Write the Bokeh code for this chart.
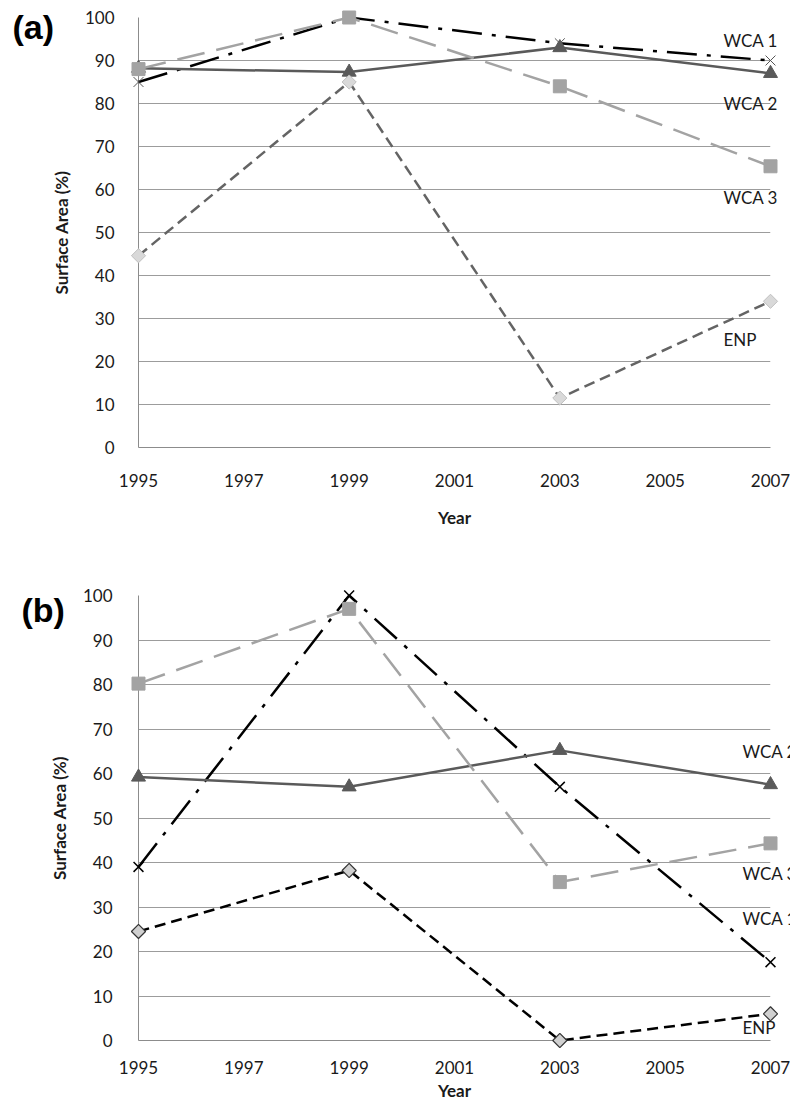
import math
from bokeh.plotting import figure
from bokeh.layouts import column
from bokeh.models import Range1d, FixedTicker
from bokeh.core.properties import value
from bokeh.embed import file_html
from bokeh.resources import INLINE

# ---------------- data ----------------
years = [1995, 1999, 2003, 2007]
x_ticks = [1995, 1997, 1999, 2001, 2003, 2005, 2007]
y_ticks = [0, 10, 20, 30, 40, 50, 60, 70, 80, 90, 100]

a_wca1 = [85, 100, 94, 90]
a_wca2 = [88.2, 87.3, 93, 87]
a_wca3 = [88, 100, 84, 65.4]
a_enp = [44.6, 85, 11.5, 34]

b_wca1 = [39, 100, 57, 17.6]
b_wca2 = [59.2, 57, 65.2, 57.5]
b_wca3 = [80.2, 97, 35.6, 44.3]
b_enp = [24.5, 38.2, 0, 6]

names = ["WCA 1", "WCA 2", "WCA 3", "ENP"]
panel_tags = ["(a)", "(b)"]
x_title = "Year"
y_title = "Surface Area (%)"

# label anchor heights (data units) for the series names
a_label_y = [94.6, 80.0, 58.1, 25.1]
b_label_y = [27.4, 64.9, 37.5, 3.0]

FONT = "Lato"
TXT = "#1a1a1a"


def make_panel(tag, series, label_y, height, mb_left, mb_top, mb_bottom,
               y_standoff, x_standoff, lab_xoff, tag_xoff, tag_yoff,
               year_yoff, styles):
    p = figure(width=790, height=height,
               x_range=Range1d(1995, 2007), y_range=Range1d(0, 100),
               output_backend="svg", toolbar_location=None,
               min_border_left=mb_left, min_border_right=20,
               min_border_top=mb_top, min_border_bottom=mb_bottom)
    p.outline_line_color = None
    p.background_fill_color = "white"
    p.border_fill_color = "white"
    p.xgrid.visible = False
    p.ygrid.ticker = FixedTicker(ticks=y_ticks)
    p.ygrid.grid_line_color = "#9c9c9c"
    p.ygrid.grid_line_width = 1
    p.xaxis.ticker = FixedTicker(ticks=x_ticks)
    p.yaxis.ticker = FixedTicker(ticks=y_ticks)
    for ax in (p.xaxis[0], p.yaxis[0]):
        ax.major_tick_line_color = None
        ax.minor_tick_line_color = None
        ax.axis_line_color = "#8c8c8c"
        ax.axis_line_width = 1
        ax.major_label_text_font = FONT
        ax.major_label_text_font_size = "17px"
        ax.major_label_text_color = TXT
    p.yaxis.major_label_standoff = y_standoff
    p.xaxis.major_label_standoff = x_standoff
    p.yaxis.axis_label = y_title
    p.yaxis.axis_label_text_font = FONT
    p.yaxis.axis_label_text_font_style = "bold"
    p.yaxis.axis_label_text_font_size = "17px"
    p.yaxis.axis_label_text_color = TXT
    p.yaxis.axis_label_standoff = 10

    for vals, st in zip(series, styles):
        p.line(years, vals, line_color=st["lc"], line_width=st["lw"],
               line_dash=st["dash"], level="overlay")
        p.scatter(years, vals, marker=st["marker"], size=st["size"],
                  angle=st.get("angle", 0.0),
                  fill_color=st["fc"], line_color=st["mlc"],
                  line_width=st["mlw"], level="overlay")

    # series names (text glyphs on the overlay level so they are not clipped)
    p.text(x=[years[-1]] * len(names), y=label_y, text=names,
           x_offset=lab_xoff, text_font=value(FONT), text_font_size="17px",
           text_color=TXT, text_baseline="middle", text_align="left",
           level="overlay")
    # panel tag
    p.text(x=[years[0]], y=[y_ticks[-1]], text=[tag], x_offset=tag_xoff,
           y_offset=tag_yoff, text_font=value("Liberation Sans"),
           text_font_style="bold", text_font_size="34px", text_color="black",
           text_baseline="middle", text_align="left", level="overlay")
    # x axis title
    p.text(x=[(x_ticks[0] + x_ticks[-1]) / 2], y=[y_ticks[0]], text=[x_title],
           y_offset=year_yoff, text_font=value(FONT), text_font_style="bold",
           text_font_size="17px", text_color=TXT, text_baseline="middle",
           text_align="center", level="overlay")
    return p


styles_a = [
    dict(lc="black", lw=2.5, dash="30 10 4 10", marker="x", size=14,
         fc=None, mlc="#555555", mlw=1),
    dict(lc="#5a5a5a", lw=2.5, dash="solid", marker="triangle", size=14,
         fc="#5a5a5a", mlc="#5a5a5a", mlw=1),
    dict(lc="#a3a3a3", lw=2.5, dash="28 12", marker="square", size=13,
         fc="#a3a3a3", mlc="#a3a3a3", mlw=1),
    dict(lc="#646464", lw=2.5, dash="11 6", marker="square", size=10,
         angle=math.pi / 4, fc="#d9d9d9", mlc="#c0c0c0", mlw=1),
]
styles_b = [
    dict(lc="black", lw=2.5, dash="30 10 4 10", marker="x", size=14,
         fc=None, mlc="black", mlw=1.5),
    dict(lc="#5a5a5a", lw=2.5, dash="solid", marker="triangle", size=14,
         fc="#5a5a5a", mlc="#5a5a5a", mlw=1),
    dict(lc="#a3a3a3", lw=2.5, dash="28 12", marker="square", size=13,
         fc="#a3a3a3", mlc="#a3a3a3", mlw=1),
    dict(lc="black", lw=2.5, dash="11 6", marker="square", size=10,
         angle=math.pi / 4, fc="#d0d0d0", mlc="#333333", mlw=1.2),
]

pa = make_panel(panel_tags[0], [a_wca1, a_wca2, a_wca3, a_enp], a_label_y,
                height=535, mb_left=138, mb_top=17, mb_bottom=88,
                y_standoff=18, x_standoff=20, lab_xoff=-47,
                tag_xoff=-126, tag_yoff=9, year_yoff=70, styles=styles_a)
pb = make_panel(panel_tags[1], [b_wca1, b_wca2, b_wca3, b_enp], b_label_y,
                height=566, mb_left=130, mb_top=60, mb_bottom=61,
                y_standoff=20, x_standoff=14, lab_xoff=-28,
                tag_xoff=-117, tag_yoff=14, year_yoff=50, styles=styles_b)

layout = column(pa, pb, spacing=0)
open("out.html", "w").write(file_html(layout, INLINE))
